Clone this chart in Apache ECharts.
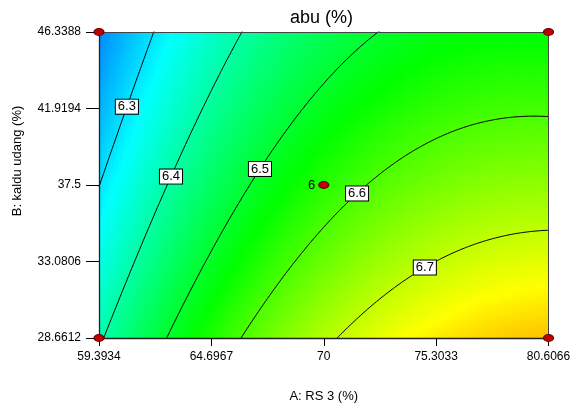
<!DOCTYPE html>
<html><head><meta charset="utf-8">
<script src="https://cdn.jsdelivr.net/npm/echarts@6/dist/echarts.min.js"></script>
<style>html,body{margin:0;padding:0;background:#fff}#c{width:572px;height:404px}</style>
</head><body><div id="c"></div>
<script>
// ---- data ----
const xTicks = [59.3934, 64.6967, 70, 75.3033, 80.6066];      // A: RS 3 (%)
const yTicks = [28.6612, 33.0806, 37.5, 41.9194, 46.3388];    // B: kaldu udang (%)
const contourLevels = [6.3, 6.4, 6.5, 6.6, 6.7];
const labelAtA = [60.71, 62.79, 66.99, 71.57, 74.77];         // A value where each contour label sits
const designA = [59.3934, 59.3934, 80.6066, 80.6066, 70];
const designB = [28.6612, 46.3388, 28.6612, 46.3388, 37.5];
const designReps = [1, 1, 1, 1, 6];
// fitted response surface (coded units): [intercept, A, B, AB, A^2, B^2]
const modelCoef = [6.569, 0.18, -0.11, -0.026, -0.09, 0.009];
const colorRange = [6.109, 6.966];

// ---- helpers ----
const xMin = xTicks[0], xMax = xTicks[xTicks.length - 1];
const yMin = yTicks[0], yMax = yTicks[yTicks.length - 1];
const xMid = (xMin + xMax) / 2, xHalf = (xMax - xMin) / 2;
const yMid = (yMin + yMax) / 2, yHalf = (yMax - yMin) / 2;
const [c0, cA, cB, cAB, cAA, cBB] = modelCoef;
function resp(A, B) {
  const a = (A - xMid) / xHalf, b = (B - yMid) / yHalf;
  return c0 + cA * a + cB * b + cAB * a * b + cAA * a * a + cBB * b * b;
}
function solveB(A, L) {
  const a = (A - xMid) / xHalf;
  const q2 = cBB, q1 = cB + cAB * a, q0 = c0 + cA * a + cAA * a * a - L;
  let b;
  if (Math.abs(q2) < 1e-12) b = -q0 / q1;
  else {
    const disc = q1 * q1 - 4 * q2 * q0;
    if (disc < 0) return null;
    const q = -0.5 * (q1 + Math.sign(q1) * Math.sqrt(disc));
    b = q0 / q;
  }
  return yMid + b * yHalf;
}

// heat cells
const NX = 120, NY = 90;
const dA = (xMax - xMin) / NX, dB = (yMax - yMin) / NY;
const cells = [];
for (let i = 0; i < NX; i++) {
  const A = xMin + (i + 0.5) * dA;
  for (let j = 0; j < NY; j++) {
    const B = yMin + (j + 0.5) * dB;
    cells.push([A, B, resp(A, B)]);
  }
}

// contour lines
const contourSeries = contourLevels.map(L => {
  const pts = [];
  const N = 400;
  for (let k = 0; k <= N; k++) {
    const A = xMin + (xMax - xMin) * k / N;
    const B = solveB(A, L);
    if (B !== null && B > yMin - 3 * yHalf && B < yMax + 3 * yHalf) pts.push([A, B]);
  }
  return {
    type: 'line', data: pts, symbol: 'none', silent: true, clip: true, z: 3,
    lineStyle: { color: '#000', width: 1 }, animation: false
  };
});

const labelData = contourLevels.map((L, i) => [labelAtA[i], solveB(labelAtA[i], L), L]);
const designData = designA.map((a, i) => [a, designB[i], designReps[i]]);

const FONT = "'Liberation Sans', Arial, sans-serif";
const chart = echarts.init(document.getElementById('c'), null, { renderer: 'canvas' });
chart.setOption({
  animation: false,
  backgroundColor: '#fff',
  title: {
    text: 'abu (%)', left: 290, top: 9, padding: 0,
    textStyle: { fontFamily: FONT, fontSize: 18, fontWeight: 'normal', color: '#000' }
  },
  grid: { left: 99, right: 23.5, top: 32, bottom: 66, containLabel: false, outerBoundsMode: 'none' },
  visualMap: {
    show: false, type: 'continuous', seriesIndex: 0, dimension: 2,
    min: colorRange[0], max: colorRange[1],
    inRange: { color: ['#0000ff', '#00ffff', '#00ff00', '#ffff00', '#ff0000'] }
  },
  xAxis: [{
    type: 'value', min: xMin, max: xMax, z: 10,
    name: 'A: RS 3 (%)', nameLocation: 'middle', nameGap: 52,
    nameTextStyle: { fontFamily: FONT, fontSize: 13, color: '#000' },
    axisLine: { show: true, lineStyle: { color: '#222', width: 1.3 } },
    axisTick: { show: true, length: 8, lineStyle: { color: '#000' }, customValues: xTicks },
    axisLabel: { fontFamily: FONT, fontSize: 12, color: '#000', margin: 13,
      customValues: xTicks, formatter: v => String(xTicks.find(t => Math.abs(t - v) < 1e-6) ?? v) },
    splitLine: { show: false }
  }, {
    type: 'value', position: 'top', min: xMin, max: xMax, z: 10,
    axisLine: { show: true, lineStyle: { color: '#444', width: 1 } },
    axisTick: { show: false }, axisLabel: { show: false }, splitLine: { show: false }
  }],
  yAxis: [{
    type: 'value', min: yMin, max: yMax, z: 10,
    name: 'B: kaldu udang (%)', nameLocation: 'middle', nameGap: 75,
    nameTextStyle: { fontFamily: FONT, fontSize: 13, color: '#000', padding: [0, 0, 0, 48] },
    axisLine: { show: true, lineStyle: { color: '#222', width: 1.3 } },
    axisTick: { show: true, length: 13, lineStyle: { color: '#000' }, customValues: yTicks },
    axisLabel: { fontFamily: FONT, fontSize: 12, color: '#000', margin: 18,
      customValues: yTicks, formatter: v => String(yTicks.find(t => Math.abs(t - v) < 1e-6) ?? v) },
    splitLine: { show: false }
  }, {
    type: 'value', position: 'right', min: yMin, max: yMax, z: 10,
    axisLine: { show: true, lineStyle: { color: '#444', width: 1 } },
    axisTick: { show: false }, axisLabel: { show: false }, splitLine: { show: false }
  }],
  series: [
    {
      type: 'custom', data: cells, clip: true, silent: true, z: 1,
      progressive: 0, animation: false,
      encode: { x: 0, y: 1 },
      renderItem: function (params, api) {
        const A = api.value(0), B = api.value(1);
        const p0 = api.coord([A - dA / 2, B + dB / 2]);
        const p1 = api.coord([A + dA / 2, B - dB / 2]);
        return {
          type: 'rect',
          shape: { x: p0[0], y: p0[1], width: p1[0] - p0[0] + 0.7, height: p1[1] - p0[1] + 0.7 },
          style: { fill: api.visual('color') }
        };
      }
    },
    ...contourSeries,
    {
      type: 'scatter', data: labelData, symbolSize: 0, silent: true, z: 5, animation: false,
      itemStyle: { opacity: 1 },
      label: {
        show: true, position: 'inside', formatter: p => String(p.value[2]),
        fontFamily: FONT, fontSize: 13, color: '#000', backgroundColor: '#ffffff',
        borderColor: '#000', borderWidth: 1, padding: [1, 2, 0, 2], lineHeight: 13, opacity: 1
      }
    },
    {
      type: 'scatter', data: designData, symbol: 'circle', symbolSize: [10, 7],
      clip: false, silent: true, z: 12, animation: false,
      itemStyle: { color: '#c00000', borderColor: '#600000', borderWidth: 1, opacity: 1 },
      label: {
        show: true, position: 'left', distance: 3,
        formatter: p => (p.value[2] > 1 ? String(p.value[2]) : ''),
        fontFamily: FONT, fontSize: 13, color: '#000'
      }
    }
  ]
});
</script></body></html>
